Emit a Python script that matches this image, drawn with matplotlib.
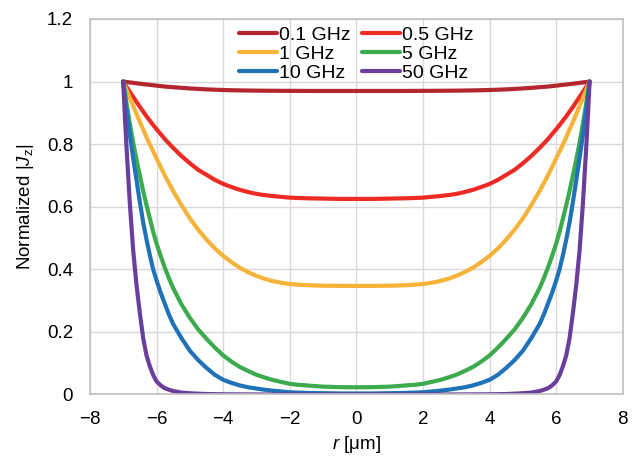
import numpy as np
import matplotlib
matplotlib.use("Agg")
import matplotlib.pyplot as plt

plt.rcParams['font.family'] = ['Liberation Sans', 'DejaVu Sans']
plt.rcParams['axes.unicode_minus'] = True
plt.rcParams['mathtext.fontset'] = 'custom'
plt.rcParams['mathtext.rm'] = 'Liberation Sans'
plt.rcParams['mathtext.it'] = 'Liberation Sans:italic'

# distance from the surface d = 7 - |r| (um); curves are symmetric about r = 0
depth = [7.0, 6.5, 6.0, 5.75, 5.5, 5.25, 5.0, 4.75, 4.5, 4.25, 4.0, 3.75, 3.5, 3.25, 3.0,
         2.75, 2.5, 2.25, 2.0, 1.75, 1.5, 1.375, 1.25, 1.125, 1.0, 0.9, 0.8, 0.7, 0.6,
         0.5, 0.4, 0.3, 0.2, 0.1, 0.05, 0.0]

f01 = [0.970, 0.970, 0.970, 0.970, 0.9701, 0.9702, 0.9703, 0.9704, 0.9706, 0.9708, 0.971,
       0.9714, 0.9718, 0.9723, 0.973, 0.974, 0.975, 0.9765, 0.978, 0.980, 0.982, 0.983,
       0.984, 0.9855, 0.987, 0.9882, 0.9894, 0.9906, 0.9919, 0.9932, 0.9945, 0.9959,
       0.9972, 0.9986, 0.9993, 1.0]
f05 = [0.625, 0.625, 0.626, 0.6265, 0.627, 0.628, 0.629, 0.6315, 0.634, 0.637, 0.641, 0.647,
       0.654, 0.663, 0.673, 0.686, 0.702, 0.718, 0.739, 0.762, 0.788, 0.802, 0.816, 0.832,
       0.848, 0.861, 0.875, 0.889, 0.904, 0.919, 0.935, 0.951, 0.967, 0.983, 0.9915, 1.0]
f1 = [0.347, 0.347, 0.3476, 0.3484, 0.3493, 0.351, 0.353, 0.357, 0.362, 0.3695, 0.379, 0.391,
      0.405, 0.423, 0.443, 0.467, 0.495, 0.527, 0.563, 0.605, 0.650, 0.675, 0.700, 0.727,
      0.755, 0.777, 0.799, 0.822, 0.847, 0.871, 0.896, 0.922, 0.947, 0.973, 0.986, 1.0]
f5 = [0.023, 0.0235, 0.025, 0.027, 0.029, 0.031, 0.034, 0.040, 0.046, 0.054, 0.063, 0.075,
      0.088, 0.105, 0.125, 0.150, 0.178, 0.208, 0.245, 0.288, 0.340, 0.371, 0.405, 0.443,
      0.483, 0.520, 0.562, 0.605, 0.650, 0.700, 0.750, 0.805, 0.865, 0.930, 0.965, 1.0]
f10 = [0.003, 0.0033, 0.004, 0.0045, 0.005, 0.006, 0.007, 0.0095, 0.012, 0.015, 0.019, 0.023,
       0.029, 0.037, 0.047, 0.063, 0.085, 0.110, 0.140, 0.180, 0.225, 0.255, 0.290, 0.325,
       0.365, 0.400, 0.445, 0.495, 0.550, 0.615, 0.685, 0.755, 0.830, 0.910, 0.955, 1.0]
f50 = [0.0, 0.0, 0.0, 0.0, 0.0, 0.0, 0.0, 0.0, 0.0, 0.0, 0.0001, 0.0002, 0.0003, 0.0004,
       0.0006, 0.001, 0.0015, 0.0025, 0.004, 0.006, 0.011, 0.015, 0.020, 0.029, 0.042,
       0.062, 0.090, 0.125, 0.180, 0.260, 0.350, 0.460, 0.610, 0.790, 0.890, 1.0]

labels = ['0.1 GHz', '0.5 GHz', '1 GHz', '5 GHz', '10 GHz', '50 GHz']
colors = ['#b3262f', '#ee2a24', '#f6b33a', '#3bab4e', '#1f71b8', '#6a3f9b']
series = [f01, f05, f1, f5, f10, f50]

xticks = [-8, -6, -4, -2, 0, 2, 4, 6, 8]
yticks = [0, 0.2, 0.4, 0.6, 0.8, 1.0, 1.2]
ytick_labels = ['0', '0.2', '0.4', '0.6', '0.8', '1', '1.2']

radius = 7.0
r_half = radius - np.array(depth)          # 0 (centre) ... 7 (surface)
r_full = np.concatenate([-r_half[::-1], r_half[1:]])

fig = plt.figure(figsize=(6.33, 4.63), dpi=100)
ax = fig.add_axes([0.142, 0.148, 0.842, 0.811])

lines = []
for vals, lab, col in zip(series, labels, colors):
    v = np.array(vals)
    v_full = np.concatenate([v[::-1], v[1:]])
    ln, = ax.plot(r_full, v_full, color=col, lw=3.0, label=lab,
                  solid_capstyle='round', solid_joinstyle='round')
    lines.append(ln)

ax.set_xlim(-8, 8)
ax.set_ylim(0, 1.2)
ax.set_xticks(xticks)
ax.set_yticks(yticks)
ax.set_yticklabels(ytick_labels)
ax.grid(True, color='#d9d9d9', lw=1.0)
ax.set_axisbelow(True)
for s in ax.spines.values():
    s.set_color('#bfbfbf')
    s.set_linewidth(1.2)
ax.tick_params(axis='x', length=0, labelsize=13.5, pad=12)
ax.tick_params(axis='y', length=0, labelsize=13.5, pad=12)

ax.set_xlabel(r'$\mathit{r}$ [μm]', fontsize=13.5, labelpad=4)
ax.set_ylabel(r'Normalized |$\mathit{J}_\mathrm{z}$|', fontsize=13.5, labelpad=8)

# row-major order as in the reference: (0.1, 0.5), (1, 5), (10, 50)
order = [0, 2, 4, 1, 3, 5]
leg = ax.legend([lines[i] for i in order], [labels[i] for i in order],
                ncol=2, loc='upper center', bbox_to_anchor=(0.5, 1.012), frameon=False,
                fontsize=14, handlelength=1.95, handletextpad=0.12, columnspacing=0.6,
                labelspacing=0.08, borderaxespad=0.2)

fig.savefig('out.png', dpi=100)
